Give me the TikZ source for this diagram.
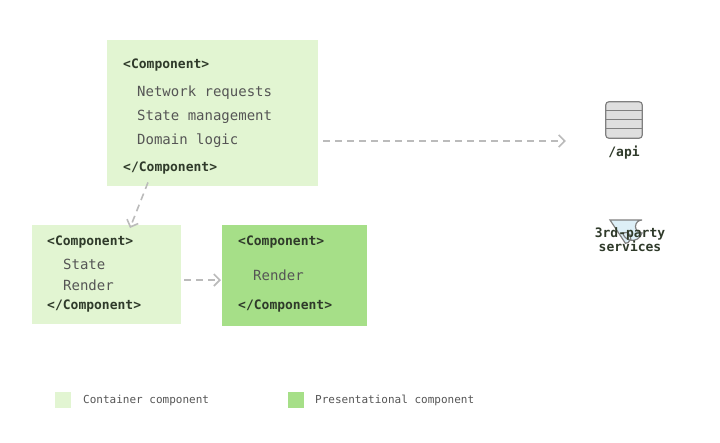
\documentclass[tikz,border=0pt]{standalone}
\usepackage{fontspec}
\setmonofont{DejaVu Sans Mono}
\usetikzlibrary{positioning,arrows.meta}
\definecolor{lightgreen}{HTML}{E2F5D2}
\definecolor{darkgreen}{HTML}{A6DF88}
\definecolor{tagtext}{HTML}{2F3A2A}
\definecolor{plaintext}{HTML}{555555}
\definecolor{arrowgray}{HTML}{BBBBBB}
\definecolor{cloudblue}{HTML}{DDEFF7}
\begin{document}
\begin{tikzpicture}[x=1pt,y=-1pt,
    box/.style={anchor=north west,inner sep=0pt,draw=none},
    tag/.style={anchor=west,inner sep=0pt,font=\ttfamily\bfseries\fontsize{13}{13}\selectfont,text=tagtext},
    line/.style={anchor=west,inner sep=0pt,font=\ttfamily\fontsize{14}{14}\selectfont,text=plaintext},
    legend/.style={anchor=west,inner sep=0pt,font=\ttfamily\fontsize{11}{11}\selectfont,text=plaintext},
    flow/.style={arrowgray,line width=1.6pt,dash pattern=on 7pt off 5pt,-{Straight Barb[length=6pt,width=12pt]}}]
    \useasboundingbox (0,0) rectangle (720,442);

    % Container component with data
    \node[box,fill=lightgreen,minimum width=211pt,minimum height=146pt] (big) at (107,40) {};
    \node[tag] (bigopen) at (123,65) {<Component>};
    \node[line] (net) at (137,93) {Network requests};
    \node[line] (state) at (137,117) {State management};
    \node[line] (domain) at (137,141) {Domain logic};
    \node[tag] (bigclose) at (123,168) {</Component>};

    % Lower container
    \node[box,fill=lightgreen,minimum width=149pt,minimum height=99pt] (left) at (32,225) {};
    \node[tag] (leftopen) at (47,242) {<Component>};
    \node[line] (leftstate) at (63,264) {State};
    \node[line] (leftrender) at (63,285) {Render};
    \node[tag] (leftclose) at (47,306) {</Component>};

    % Presentational component
    \node[box,fill=darkgreen,minimum width=145pt,minimum height=101pt] (right) at (222,225) {};
    \node[tag] (rightopen) at (238,242) {<Component>};
    \node[line] (rightrender) at (253,275) {Render};
    \node[tag] (rightclose) at (238,306) {</Component>};

    % Services
    \node[inner sep=0pt,minimum width=36pt,minimum height=36pt] (api) at (624,120) {};
    \draw[gray,fill=gray!25,line width=1.2pt,rounded corners=3pt] (api.north west) rectangle (api.south east);
    \foreach \k in {1,2,3}
        \draw[gray,line width=1.2pt] ([yshift=-9*\k pt]api.north west) -- ([yshift=-9*\k pt]api.north east);
    \node[tag,anchor=center] (apilabel) at (624,153) {/api};

    \coordinate (cloud) at (626,210);
    \draw[gray,fill=cloudblue,line width=1.2pt] (610,220) -- (642,220)
        arc[start angle=90,end angle=-90,radius=-6.5] arc[start angle=15,end angle=165,radius=10]
        arc[start angle=60,end angle=270,radius=-5.5] -- cycle;
    \node[tag,anchor=center,align=center] (third) at (630,240) {3rd-party\\services};

    % Connectors
    \draw[flow] ([xshift=5pt]big.east |- domain) -- ([xshift=-40pt]api.west |- domain);
    \draw[flow] ([xshift=41pt,yshift=4pt]big.south west) -- ([xshift=98pt,yshift=-3pt]left.north west);
    \draw[flow] ([xshift=3pt]left.east |- 0,280) -- ([xshift=-1pt]right.west |- 0,280);

    % Legend
    \node[box,fill=lightgreen,minimum size=16pt] (keylight) at (55,392) {};
    \node[legend] (keylighttext) at (83,400) {Container component};
    \node[box,fill=darkgreen,minimum size=16pt] (keydark) at (288,392) {};
    \node[legend] (keydarktext) at (315,400) {Presentational component};
\end{tikzpicture}
\end{document}
